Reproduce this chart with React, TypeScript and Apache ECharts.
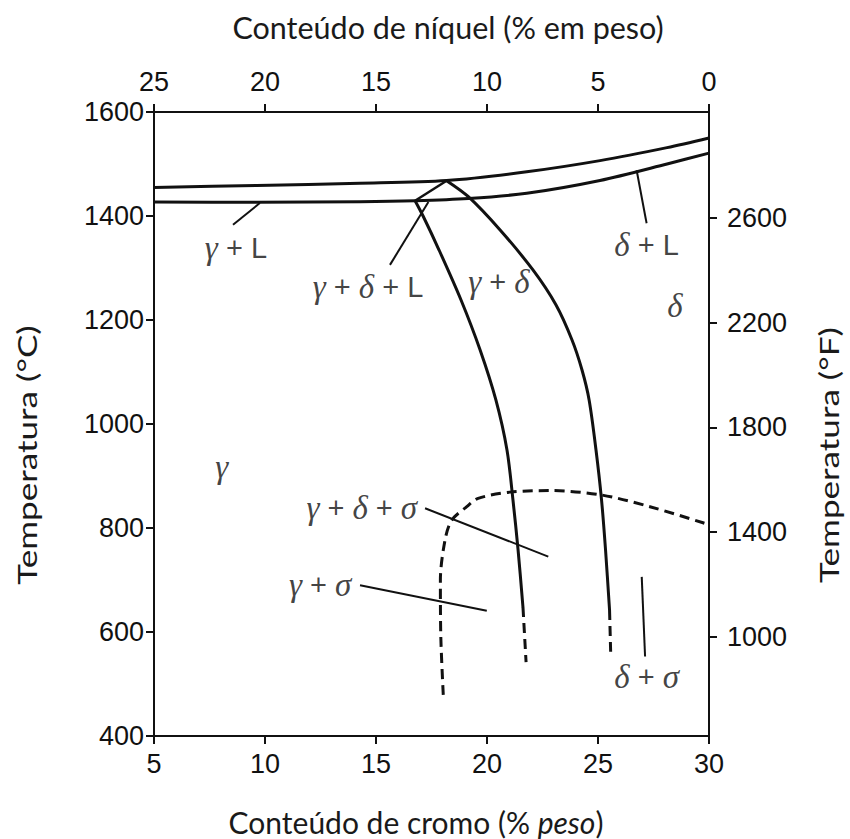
import React, { useEffect, useRef } from 'react';
import * as echarts from 'echarts';

// Axis ticks
const crTicks = [5, 10, 15, 20, 25, 30];
const niTicks = [0, 5, 10, 15, 20, 25];
const tempCTicks = [400, 600, 800, 1000, 1200, 1400, 1600];
const tempFTicks = [1000, 1400, 1800, 2200, 2600];

// Phase boundaries: [Cr wt%, T °C]
const upperLine = [[5, 1455], [9.63, 1458.7], [14.28, 1462.9], [18.18, 1468.3], [21.79, 1485], [25.09, 1506.5], [28.11, 1531.5], [30, 1550]];
const lowerLine = [[5, 1427], [9.63, 1426.5], [14.28, 1427.5], [16.76, 1429.4], [19.16, 1433.7], [21.79, 1443.7], [25.09, 1468.3], [28.11, 1500], [30, 1521]];
const triangleLeftEdge = [[16.76, 1429.4], [18.18, 1467.9]];
const gammaBoundary = [[16.76, 1429.4], [17.12, 1400], [17.84, 1334.6], [18.83, 1238.5], [19.69, 1142.3], [20.4, 1046.2], [20.9, 950], [21.17, 853.8], [21.4, 757.7], [21.62, 648]];
const gammaBoundaryDashed = [[21.62, 648], [21.76, 542]];
const deltaBoundary = [[18.18, 1467.9], [19.16, 1437.1], [20.59, 1373.1], [22.07, 1296.2], [23.11, 1228.8], [23.83, 1161.5], [24.28, 1103.8], [24.6, 1046.2], [24.91, 950], [25.16, 853.8], [25.34, 757.7], [25.52, 642.3]];
const deltaBoundaryDashed = [[25.52, 642.3], [25.57, 562]];
const sigmaBoundary = [[18.03, 479], [17.92, 590], [17.9, 700], [18.11, 777], [18.41, 815], [19.09, 841], [19.6, 857], [21.04, 869], [22.84, 872], [25.09, 864], [27.34, 841], [29.73, 810], [30, 806]];

// Leader lines
const leaderGL = [[8.56, 1383], [9.77, 1425]];
const leaderGDL = [[15.63, 1306], [17.36, 1427]];
const leaderDL = [[26.74, 1488], [27.19, 1386]];
const leaderGDS = [[17.21, 838], [22.76, 745]];
const leaderGS = [[14.28, 690], [19.99, 641]];
const leaderDS = [[26.97, 706], [27.12, 553]];

// Region labels: [Cr, T, text]
const regionLabels: [number, number, string][] = [
  [8.69, 1338, '{g|γ}{p| + L}'],
  [14.64, 1264, '{g|γ}{p| + }{g|δ}{p| + L}'],
  [20.54, 1274, '{g|γ}{p| + }{g|δ}'],
  [27.19, 1344, '{g|δ}{p| + L}'],
  [28.47, 1226, '{g|δ}'],
  [8.05, 918, '{g|γ}'],
  [14.36, 838, '{g|γ}{p| + }{g|δ}{p| + }{g|σ}'],
  [12.48, 690, '{g|γ}{p| + }{g|σ}'],
  [27.19, 514, '{g|δ}{p| + }{g|σ}'],
];

const INK = '#111';
const SANS = 'Liberation Sans';
const SERIF = 'Liberation Serif';
const TITLE = 'Lato';

function lineSeries(data: number[][], width: number, dashed = false, smooth: number | boolean = 0.3) {
  return {
    type: 'line',
    data,
    smooth,
    showSymbol: false,
    symbol: 'none',
    silent: true,
    clip: false,
    lineStyle: { color: INK, width, type: dashed ? [10, 6] : 'solid', cap: 'butt', join: 'round' },
  };
}

export default function App() {
  const ref = useRef<HTMLDivElement>(null);
  useEffect(() => {
    if (!ref.current) return;
    const chart = echarts.init(ref.current, null, { renderer: 'svg' });
    const fmt = (v: number) => String(v);
    const tickLabel = { fontFamily: SANS, fontSize: 27, color: INK, formatter: fmt };
    const axisLine = { show: true, onZero: false, lineStyle: { color: INK, width: 2 } };
    const axisTick = { show: true, inside: false, length: 8, lineStyle: { color: INK, width: 2 } };
    chart.setOption({
      animation: false,
      backgroundColor: '#fff',
      grid: { left: 154, right: 141, top: 112, bottom: 103, containLabel: false },
      xAxis: [
        {
          type: 'value', position: 'bottom', min: crTicks[0], max: crTicks[crTicks.length - 1], interval: 5,
          axisLine, axisTick, splitLine: { show: false },
          axisLabel: { ...tickLabel, margin: 14 },
        },
        {
          type: 'value', position: 'top', min: niTicks[0], max: niTicks[niTicks.length - 1], interval: 5, inverse: true,
          axisLine, axisTick, splitLine: { show: false },
          axisLabel: { ...tickLabel, margin: 17 },
        },
      ],
      yAxis: [
        {
          type: 'value', position: 'left', min: tempCTicks[0], max: tempCTicks[tempCTicks.length - 1], interval: 200,
          axisLine, axisTick, splitLine: { show: false },
          axisLabel: { ...tickLabel, margin: 10 },
        },
        {
          type: 'value', position: 'right', min: 620, max: 3006,
          axisLine, splitLine: { show: false },
          axisTick: { ...axisTick, customValues: tempFTicks },
          axisLabel: { ...tickLabel, margin: 18, customValues: tempFTicks },
        },
      ],
      series: [
        lineSeries(upperLine, 3),
        lineSeries(lowerLine, 3),
        lineSeries(triangleLeftEdge, 2.5, false, false),
        lineSeries(gammaBoundary, 3),
        lineSeries(gammaBoundaryDashed, 3, true, false),
        lineSeries(deltaBoundary, 3),
        lineSeries(deltaBoundaryDashed, 3, true, false),
        lineSeries(sigmaBoundary, 3, true),
        lineSeries(leaderGL, 2, false, false),
        lineSeries(leaderGDL, 2, false, false),
        lineSeries(leaderDL, 2, false, false),
        lineSeries(leaderGDS, 2, false, false),
        lineSeries(leaderGS, 2, false, false),
        lineSeries(leaderDS, 2, false, false),
        {
          type: 'scatter',
          symbolSize: 0,
          silent: true,
          data: regionLabels.map(([cr, t, txt]) => ({
            value: [cr, t],
            label: {
              show: true,
              position: 'inside',
              formatter: txt,
              rich: {
                g: { fontFamily: SERIF, fontStyle: 'italic', fontSize: 33, color: INK },
                p: { fontFamily: SANS, fontSize: 29, color: INK },
              },
            },
          })),
        },
      ],
      graphic: [
        {
          type: 'text', x: 448, y: 27,
          style: { text: 'Conteúdo de níquel (% em peso)', fontFamily: TITLE, fontSize: 30.5, fill: '#1a1a1a', align: 'center', verticalAlign: 'middle' },
        },
        {
          type: 'text', x: 416, y: 822,
          style: {
            text: 'Conteúdo de cromo (% {i|peso})', fontFamily: TITLE, fontSize: 30, fill: '#1a1a1a', align: 'center', verticalAlign: 'middle',
            rich: { i: { fontFamily: TITLE, fontStyle: 'italic', fontSize: 30, fill: '#1a1a1a' } },
          },
        },
        {
          type: 'text', x: 27, y: 455, rotation: Math.PI / 2, scaleX: 1.3,
          style: { text: 'Temperatura (°C)', fontFamily: TITLE, fontSize: 27, fill: '#1a1a1a', align: 'center', verticalAlign: 'middle' },
        },
        {
          type: 'text', x: 829, y: 455, rotation: Math.PI / 2, scaleX: 1.3,
          style: { text: 'Temperatura (°F)', fontFamily: TITLE, fontSize: 27, fill: '#1a1a1a', align: 'center', verticalAlign: 'middle' },
        },
      ],
    });
    return () => chart.dispose();
  }, []);
  return <div ref={ref} style={{ position: 'absolute', left: 0, top: 0, width: 850, height: 839 }} />;
}
